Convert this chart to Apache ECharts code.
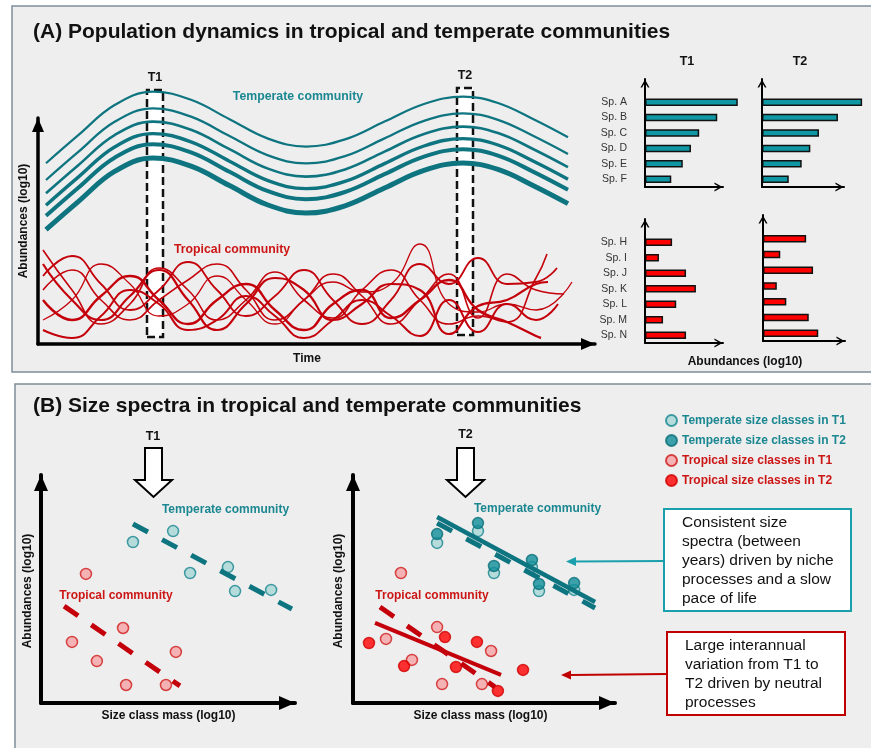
<!DOCTYPE html>
<html><head><meta charset="utf-8">
<script src="https://cdn.jsdelivr.net/npm/echarts@6/dist/echarts.min.js"></script>
<style>html,body{margin:0;padding:0;background:#fff}#c{width:871px;height:748px}</style>
</head><body><div id="c"></div>
<script>
const FONT = '"Liberation Sans", Arial, Helvetica, sans-serif';

// ---------- Panel A: population dynamics ----------
const temperateTime = [0.8, 4, 7.7, 11.5, 15.3, 19.15, 23, 26.8, 30.7, 34.65, 38.6, 42.5, 46, 49.5, 53];
const temperateSpA = [90.4, 104.3, 119.6, 126.2, 122.1, 112.4, 102.7, 98.7, 102.3, 111.2, 120.0, 123.7, 120.5, 112.5, 103.4];
const temperateSpB = [82.0, 95.9, 111.2, 117.8, 113.7, 104.0, 94.3, 90.3, 93.9, 102.8, 111.6, 115.3, 112.1, 104.1, 95.0];
const temperateSpC = [75.4, 89.3, 104.6, 111.2, 107.1, 97.4, 87.7, 83.7, 87.3, 96.2, 105.0, 108.7, 105.5, 97.5, 88.4];
const temperateSpD = [69.4, 83.3, 98.6, 105.2, 101.1, 91.4, 81.7, 77.7, 81.3, 90.2, 99.0, 102.7, 99.5, 91.5, 82.4];
const temperateSpE = [64.1, 78.0, 93.3, 99.9, 95.8, 86.1, 76.4, 72.4, 76.0, 84.9, 93.7, 97.4, 94.2, 86.2, 77.1];
const temperateSpF = [57.2, 71.1, 86.4, 93.0, 88.9, 79.2, 69.5, 65.5, 69.1, 78.0, 86.8, 90.5, 87.3, 79.3, 70.2];

// shared sampling times; the last value of every tropical series sits at its own end time
const tropicalTime = [0.5, 3.4, 6.3, 9.2, 12.1, 15.0, 17.9, 20.8, 23.7, 26.6, 29.5, 32.4, 35.3, 38.2, 41.1, 44.0, 46.9, 49.8];
const tropicalEndTime = [50.3, 50.9, 51.9, 53.4, 51.0, 52.6, 52.0];
const tropicalSpH = [22, 12, 24, 34, 22, 10, 22, 30, 17, 7, 20, 27, 13, 22, 32, 17, 11, 4, 3];
const tropicalSpI = [47, 27, 10, 20, 38, 27, 12, 22, 36, 22, 13, 27, 37, 22, 10, 14, 11, 33, 45];
const tropicalSpJ = [34, 44, 30, 17, 27, 41, 27, 14, 24, 37, 22, 10, 22, 40, 30, 43, 30, 31, 38];
const tropicalSpK = [12, 22, 40, 30, 14, 20, 34, 22, 10, 22, 31, 26, 30, 50, 20, 16, 20, 17, 31];
const tropicalSpL = [40, 22, 12, 24, 37, 22, 7, 20, 33, 27, 12, 20, 30, 27, 5, 19, 22, 30, 31];
const tropicalSpM = [27, 37, 22, 12, 22, 32, 40, 27, 12, 22, 35, 24, 10, 22, 35, 13, 35, 27, 25];
const tropicalSpN = [7, 3, 14, 27, 20, 7, 12, 24, 14, 3, 12, 22, 14, 4, 22, 6, 20, 12, 20];

const periodT1 = [10.9, 12.5];   // time window T1
const periodT2 = [41.9, 43.5];   // time window T2
const windowAbund = [3.5, 127];

const speciesTemperate = ['Sp. A', 'Sp. B', 'Sp. C', 'Sp. D', 'Sp. E', 'Sp. F'];
const barsTemperateT1 = [11.3, 8.8, 6.6, 5.6, 4.6, 3.2];
const barsTemperateT2 = [11.6, 8.8, 6.6, 5.6, 4.6, 3.1];
const speciesTropical = ['Sp. H', 'Sp. I', 'Sp. J', 'Sp. K', 'Sp. L', 'Sp. M', 'Sp. N'];
const barsTropicalT1 = [3.3, 1.7, 5.0, 6.2, 3.8, 2.2, 5.0];
const barsTropicalT2 = [5.0, 2.0, 5.8, 1.6, 2.7, 5.3, 6.4];

// ---------- Panel B: size spectra ----------
const temperateT1Left = [[3.62, 7.06], [5.20, 7.54], [5.87, 5.70], [7.36, 5.96], [7.64, 4.91], [9.06, 4.96]];
const tropicalT1Left = [[1.77, 5.66], [1.22, 2.68], [2.20, 1.84], [3.23, 3.29], [5.31, 2.24], [3.35, 0.79], [4.92, 0.79]];
const temperateFitT1Left = [[3.62, 7.85], [9.88, 4.12]];
const tropicalFitT1Left = [[0.91, 4.25], [5.47, 0.75]];

const temperateT1Right = [[3.21, 7.02], [4.77, 7.54], [5.38, 5.70], [6.83, 5.96], [7.10, 4.91], [8.44, 4.96]];
const temperateT2Right = [[3.21, 7.41], [4.77, 7.89], [5.38, 6.01], [6.83, 6.27], [7.10, 5.22], [8.44, 5.26]];
const tropicalT1Right = [[1.83, 5.70], [1.26, 2.81], [2.25, 1.89], [3.21, 3.33], [5.27, 2.28], [3.40, 0.83], [4.92, 0.83]];
const tropicalT2Right = [[0.61, 2.63], [3.51, 2.89], [4.73, 2.68], [1.95, 1.62], [3.93, 1.58], [6.49, 1.45], [5.53, 0.53]];
const temperateFitT1Right = [[3.21, 7.89], [9.24, 4.17]];
const temperateFitT2Right = [[3.21, 8.16], [9.24, 4.43]];
const tropicalFitT1Right = [[1.03, 4.21], [5.42, 0.70]];
const tropicalFitT2Right = [[0.84, 3.51], [5.65, 1.23]];

const legendNames = ['Temperate size classes in T1', 'Temperate size classes in T2', 'Tropical size classes in T1', 'Tropical size classes in T2'];

// ---------- styling ----------
const TEAL_LINE = '#0e7580';
const TEAL_BAR = '#0f98a3';
const TEAL_TEXT = '#1b8791';
const RED_LINE = '#c4000b';
const RED_TEXT = '#cc1616';
const STY = {
  tempT1: {color: '#a6d6d6', borderColor: '#178690', borderWidth: 1.5},
  tempT2: {color: '#0f8d98', borderColor: '#0a6f78', borderWidth: 1.5},
  tropT1: {color: '#f5a3a6', borderColor: '#cf1a1a', borderWidth: 1.5},
  tropT2: {color: '#ff0000', borderColor: '#d00000', borderWidth: 1.5}
};
const CHEVRON = 'path://M0,9 L5,0 L10,9 L8.2,9 L5,3.4 L1.8,9 Z';

function pairs(xs, ys) { return xs.map((x, i) => [x, ys[i]]); }
function arrowAxis(o) {
  const size = o.size;
  return Object.assign({
    type: 'value', min: 0, max: 1, z: 3,
    axisLine: {show: true, onZero: false, lineStyle: {color: '#000', width: o.width},
      symbol: ['none', o.symbol || 'triangle'], symbolSize: size, symbolOffset: [0, -size[1] / 2]},
    axisTick: {show: false}, axisLabel: {show: false}, splitLine: {show: false}
  }, o.extra || {});
}
function catAxis(grid, names, showLabel) {
  return {
    gridIndex: grid, type: 'category', data: names.slice().reverse().concat(['']), z: 3,
    axisLine: {show: true, onZero: false, lineStyle: {color: '#000', width: 2},
      symbol: ['none', CHEVRON], symbolSize: [9, 9], symbolOffset: [0, -4.5]},
    axisTick: {show: false}, splitLine: {show: false},
    axisLabel: {show: showLabel, margin: 18, color: '#333', fontSize: 10.5, fontFamily: FONT}
  };
}

const temperateSets = [temperateSpA, temperateSpB, temperateSpC, temperateSpD, temperateSpE, temperateSpF];
const temperateWidths = [2.2, 2.3, 2.6, 3.4, 4, 5];
const tropicalSets = [tropicalSpH, tropicalSpI, tropicalSpJ, tropicalSpK, tropicalSpL, tropicalSpM, tropicalSpN];
const tropicalWidths = [2.4, 1.6, 1.8, 1.3, 2.2, 1.6, 2.0];

const series = [];
series.push({
  type: 'line', xAxisIndex: 0, yAxisIndex: 0, data: [], z: 1, silent: true,
  markArea: {
    silent: true,
    itemStyle: {color: '#ffffff', borderColor: '#111', borderWidth: 2.5, borderType: [8, 4]},
    label: {show: true, position: 'top', distance: 5, color: '#111', fontWeight: 'bold', fontSize: 12.5, fontFamily: FONT},
    data: [
      [{name: 'T1', xAxis: periodT1[0], yAxis: windowAbund[0]}, {xAxis: periodT1[1], yAxis: windowAbund[1]}],
      [{name: 'T2', xAxis: periodT2[0], yAxis: windowAbund[0] + 1}, {xAxis: periodT2[1], yAxis: windowAbund[1] + 1}]
    ]
  }
});
temperateSets.forEach((vals, i) => series.push({
  type: 'line', xAxisIndex: 0, yAxisIndex: 0, smooth: 0.4, symbol: 'none', silent: true,
  data: pairs(temperateTime, vals), lineStyle: {color: TEAL_LINE, width: temperateWidths[i]}
}));
tropicalSets.forEach((vals, i) => series.push({
  type: 'line', xAxisIndex: 0, yAxisIndex: 0, smooth: true, symbol: 'none', silent: true,
  data: pairs(tropicalTime.concat([tropicalEndTime[i]]), vals), lineStyle: {color: RED_LINE, width: tropicalWidths[i]}
}));
function barSeries(ax, vals, color) {
  return {type: 'bar', xAxisIndex: ax, yAxisIndex: ax, data: vals.slice().reverse(), barWidth: 7.5, clip: false, silent: true,
    itemStyle: {color: color, borderColor: '#111', borderWidth: 1.5}};
}
series.push(barSeries(2, barsTemperateT1, TEAL_BAR));
series.push(barSeries(3, barsTemperateT2, TEAL_BAR));
series.push(barSeries(4, barsTropicalT1, '#ff0000'));
series.push(barSeries(5, barsTropicalT2, '#ff0000'));

function fitLine(ax, data, color, dashed, width) {
  return {type: 'line', xAxisIndex: ax, yAxisIndex: ax, data: data, symbol: 'none', silent: true,
    lineStyle: {color: color, width: width, type: dashed ? [17, 16] : 'solid', cap: 'butt'}};
}
function pts(ax, name, data, sty) {
  return {type: 'scatter', name: name, xAxisIndex: ax, yAxisIndex: ax, data: data, symbol: 'circle', symbolSize: 11, silent: true, itemStyle: sty};
}
// left scatter (T1)
series.push(fitLine(6, temperateFitT1Left, TEAL_LINE, true, 5));
series.push(fitLine(6, tropicalFitT1Left, RED_LINE, true, 5));
series.push(pts(6, legendNames[0], temperateT1Left, STY.tempT1));
series.push(pts(6, legendNames[2], tropicalT1Left, STY.tropT1));
// right scatter (T1 vs T2)
series.push(fitLine(7, temperateFitT1Right, TEAL_LINE, true, 5));
series.push(fitLine(7, tropicalFitT1Right, RED_LINE, true, 5));
series.push(pts(7, legendNames[0], temperateT1Right, STY.tempT1));
series.push(pts(7, legendNames[2], tropicalT1Right, STY.tropT1));
series.push(fitLine(7, temperateFitT2Right, TEAL_LINE, false, 4.5));
series.push(fitLine(7, tropicalFitT2Right, RED_LINE, false, 4));
series.push(pts(7, legendNames[1], temperateT2Right, STY.tempT2));
series.push(pts(7, legendNames[3], tropicalT2Right, STY.tropT2));

function txt(x, y, text, o) {
  o = o || {};
  return {type: 'text', x: x, y: y, rotation: o.rot || 0, z: 20, silent: true,
    style: {text: text, fill: o.color || '#111', fontSize: o.size || 12, fontWeight: o.weight || 'bold',
      fontFamily: FONT, align: o.align || 'center', verticalAlign: o.va || 'middle', lineHeight: o.lh}};
}
const graphic = [
  {type: 'rect', z: -5, silent: true, shape: {x: 12, y: 6, width: 880, height: 366}, style: {fill: '#eeeeee', stroke: '#7f8f99', lineWidth: 1.5}},
  {type: 'rect', z: -5, silent: true, shape: {x: 15, y: 384, width: 880, height: 380}, style: {fill: '#eeeeee', stroke: '#7f8f99', lineWidth: 1.5}},
  txt(33, 32, '(A) Population dynamics in tropical and temperate communities', {size: 21, align: 'left'}),
  txt(33, 406, '(B) Size spectra in tropical and temperate communities', {size: 21, align: 'left'}),
  txt(24, 221, 'Abundances (log10)', {rot: Math.PI / 2}),
  txt(307, 359, 'Time'),
  txt(298, 97, 'Temperate community', {color: TEAL_TEXT, size: 12.3}),
  txt(232, 250, 'Tropical community', {color: RED_TEXT, size: 12.3}),
  txt(687, 62, 'T1', {size: 12.5}),
  txt(800, 62, 'T2', {size: 12.5}),
  txt(745, 362, 'Abundances (log10)'),
  // panel B
  txt(153, 437, 'T1', {size: 12.5}),
  txt(465.5, 435, 'T2', {size: 12.5}),
  {type: 'polygon', z: 20, silent: true, shape: {points: [[145, 448], [162, 448], [162, 480], [172, 480], [153.5, 497], [135, 480], [145, 480]]}, style: {fill: '#fff', stroke: '#000', lineWidth: 2}},
  {type: 'polygon', z: 20, silent: true, shape: {points: [[457, 448], [474, 448], [474, 480], [484, 480], [465.5, 497], [447, 480], [457, 480]]}, style: {fill: '#fff', stroke: '#000', lineWidth: 2}},
  txt(28, 591, 'Abundances (log10)', {rot: Math.PI / 2}),
  txt(339, 591, 'Abundances (log10)', {rot: Math.PI / 2}),
  txt(168.5, 716, 'Size class mass (log10)'),
  txt(480.5, 716, 'Size class mass (log10)'),
  txt(225.5, 510, 'Temperate community', {color: TEAL_TEXT}),
  txt(537.5, 509, 'Temperate community', {color: TEAL_TEXT}),
  txt(116, 596, 'Tropical community', {color: RED_TEXT}),
  txt(432, 596, 'Tropical community', {color: RED_TEXT}),
  // annotation boxes
  {type: 'rect', z: 20, silent: true, shape: {x: 664, y: 509, width: 187, height: 102}, style: {fill: '#fff', stroke: '#1aa0ad', lineWidth: 2}},
  txt(682, 513.5, 'Consistent size\nspectra (between\nyears) driven by niche\nprocesses and a slow\npace of life', {size: 15.5, weight: 'normal', align: 'left', va: 'top', lh: 19}),
  {type: 'rect', z: 20, silent: true, shape: {x: 667, y: 632, width: 178, height: 83}, style: {fill: '#fff', stroke: '#c00000', lineWidth: 2}},
  txt(685, 636.5, 'Large interannual\nvariation from T1 to\nT2 driven by neutral\nprocesses', {size: 15.5, weight: 'normal', align: 'left', va: 'top', lh: 19}),
  {type: 'polyline', z: 20, silent: true, shape: {points: [[664, 561], [574, 561.5]]}, style: {stroke: '#1aa0ad', lineWidth: 2}},
  {type: 'polygon', z: 20, silent: true, shape: {points: [[566, 561.5], [576, 557], [576, 566]]}, style: {fill: '#1aa0ad'}},
  {type: 'polyline', z: 20, silent: true, shape: {points: [[667, 674], [570, 675]]}, style: {stroke: '#c00000', lineWidth: 2}},
  {type: 'polygon', z: 20, silent: true, shape: {points: [[561, 675], [571, 670.5], [571, 679.5]]}, style: {fill: '#c00000'}}
];

const option = {
  animation: false,
  backgroundColor: '#ffffff',
  textStyle: {fontFamily: FONT},
  grid: [
    {left: 38, right: 276, top: 80, bottom: 404},
    {left: 38, right: 276, top: 118, bottom: 404},
    {left: 645, width: 78, top: 79, height: 108},
    {left: 762, width: 82, top: 79, height: 108},
    {left: 645, width: 78, top: 219, height: 124},
    {left: 763, width: 82, top: 215, height: 126},
    {left: 41, width: 254, top: 475, height: 228},
    {left: 353, width: 262, top: 475, height: 228}
  ],
  xAxis: [
    {gridIndex: 0, type: 'value', min: 0, max: 55.7, show: false},
    arrowAxis({width: 3.5, size: [12, 14], extra: {gridIndex: 1}}),
    arrowAxis({width: 2, size: [9, 9], symbol: CHEVRON, extra: {gridIndex: 2, max: 9.5}}),
    arrowAxis({width: 2, size: [9, 9], symbol: CHEVRON, extra: {gridIndex: 3, max: 9.5}}),
    arrowAxis({width: 2, size: [9, 9], symbol: CHEVRON, extra: {gridIndex: 4, max: 9.5}}),
    arrowAxis({width: 2, size: [9, 9], symbol: CHEVRON, extra: {gridIndex: 5, max: 9.5}}),
    arrowAxis({width: 4, size: [14, 16], extra: {gridIndex: 6, max: 10}}),
    arrowAxis({width: 4, size: [14, 16], extra: {gridIndex: 7, max: 10}})
  ],
  yAxis: [
    {gridIndex: 0, type: 'value', min: 0, max: 132, show: false},
    arrowAxis({width: 3.5, size: [12, 14], extra: {gridIndex: 1}}),
    catAxis(2, speciesTemperate, true),
    catAxis(3, speciesTemperate, false),
    catAxis(4, speciesTropical, true),
    catAxis(5, speciesTropical, false),
    arrowAxis({width: 4, size: [14, 16], extra: {gridIndex: 6, max: 10}}),
    arrowAxis({width: 4, size: [14, 16], extra: {gridIndex: 7, max: 10}})
  ],
  legend: {
    orient: 'vertical', left: 660, top: 409, itemWidth: 11, itemHeight: 11, itemGap: 7,
    icon: 'circle', selectedMode: false,
    textStyle: {fontSize: 12, fontWeight: 'bold', fontFamily: FONT},
    data: [
      {name: legendNames[0], textStyle: {color: TEAL_TEXT}},
      {name: legendNames[1], textStyle: {color: TEAL_TEXT}},
      {name: legendNames[2], textStyle: {color: RED_TEXT}},
      {name: legendNames[3], textStyle: {color: RED_TEXT}}
    ]
  },
  graphic: graphic,
  series: series
};
const chart = echarts.init(document.getElementById('c'));
chart.setOption(option);
</script>
</body></html>
